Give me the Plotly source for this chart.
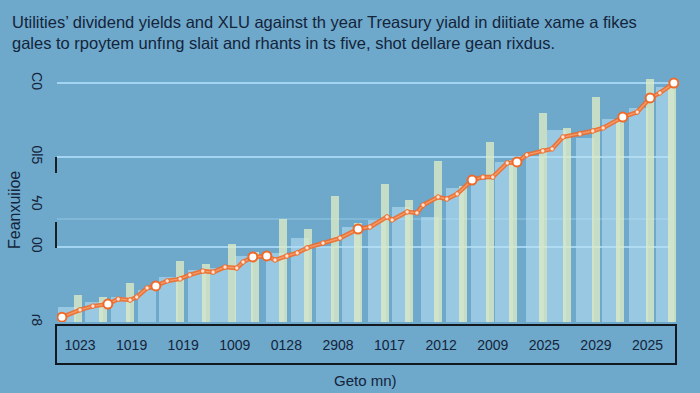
import plotly.graph_objects as go

# ---------------- data ----------------
x_labels = ["1023", "1019", "1019", "1009", "0128", "2908", "1017", "2012", "2009", "2025", "2029", "2025"]
x_pos = list(range(len(x_labels)))

y_tickvals = [0, 29.8, 46.4, 65.5, 94.8]
y_ticktext = ["ɾ8", "00", "ϟ0", "0l5", "C0"]

# wide pale-blue bars
wide_x = [-0.25, 0.27, 0.78, 1.30, 1.72, 2.27, 2.69, 3.18, 3.78, 4.26, 4.75, 5.25,
          5.76, 6.22, 6.78, 7.27, 7.75, 8.22, 8.82, 9.24, 9.79, 10.29, 10.83, 11.34]
wide_y = [6.0, 7.9, 9.9, 12.7, 17.9, 20.6, 21.4, 26.2, 27.4, 33.3, 29.8, 37.7,
          40.5, 45.6, 41.7, 53.2, 56.3, 63.5, 65.5, 76.2, 73.0, 80.6, 84.9, 93.3]

# narrow pale-yellow bars
narrow_x = [-0.04, 0.45, 0.97, 1.94, 2.44, 2.95, 3.39, 3.93, 4.42, 4.94, 5.39, 5.91,
            6.38, 6.94, 7.42, 7.95, 8.39, 8.97, 9.44, 10.00, 10.47, 11.05, 11.47]
narrow_y = [10.7, 9.9, 15.5, 24.2, 23.0, 31.0, 27.8, 40.9, 36.9, 50.0, 39.3, 54.8,
            48.4, 63.9, 54.0, 71.4, 64.3, 82.9, 77.0, 89.3, 80.2, 96.4, 94.8]

# orange line
line_x = [-0.35, 0.0, 0.25, 0.54, 0.74, 0.97, 1.10, 1.30, 1.47, 1.69, 1.94, 2.13,
          2.38, 2.58, 2.81, 3.04, 3.16, 3.35, 3.62, 3.78, 4.01, 4.21, 4.40, 4.71,
          5.04, 5.39, 5.62, 5.95, 6.05, 6.34, 6.53, 6.65, 6.94, 7.11, 7.31, 7.60,
          7.81, 8.00, 8.28, 8.47, 8.66, 8.97, 9.15, 9.36, 9.69, 9.94, 10.14, 10.52,
          10.80, 11.05, 11.24, 11.51]
line_y = [1.9, 4.8, 6.3, 7.1, 9.1, 8.7, 9.9, 13.5, 14.3, 16.3, 17.1, 18.7,
          20.2, 19.8, 21.8, 21.4, 23.8, 25.8, 26.2, 24.6, 26.2, 27.4, 29.4, 31.3,
          33.3, 36.9, 37.7, 41.7, 40.5, 43.7, 43.3, 46.4, 49.6, 48.8, 50.8, 56.3,
          57.5, 57.5, 63.1, 63.5, 66.3, 67.9, 68.7, 73.4, 74.6, 75.8, 77.0, 81.3,
          83.3, 88.9, 90.9, 94.8]
highlight_idx = [0, 3, 8, 17, 18, 25, 35, 39, 47, 49, 51]
hl_x = [line_x[i] for i in highlight_idx]
hl_y = [line_y[i] for i in highlight_idx]

title_text = ("Utilities’ dividend yields and XLU against th year Treasury yiald in diitiate xame a fikes<br>"
              "gales to rpoytem unfıng slait and rhants in ts five, shot dellare gean rixdus.")
y_title = "Feanxuiioe"
x_title = "Geto mn)"

# ---------------- figure ----------------
BG = "#6ea8cb"
TXT = "#14243a"
ORANGE = "#ee6a2a"
FONT = "Liberation Sans, Arial, sans-serif"

fig = go.Figure()
fig.add_trace(go.Bar(x=wide_x, y=wide_y, width=0.36,
                     marker=dict(color="rgba(185,225,243,0.58)", line=dict(width=0)),
                     showlegend=False, hoverinfo="skip"))
fig.add_trace(go.Bar(x=narrow_x, y=narrow_y, width=0.16,
                     marker=dict(color="rgba(222,236,196,0.78)", line=dict(width=0)),
                     showlegend=False, hoverinfo="skip"))
# line glow + line
fig.add_trace(go.Scatter(x=line_x, y=line_y, mode="lines",
                         line=dict(color="rgba(238,106,42,0.9)", width=4.5),
                         showlegend=False, hoverinfo="skip"))
fig.add_trace(go.Scatter(x=line_x, y=line_y, mode="lines+markers",
                         line=dict(color="#f79a66", width=1.4),
                         marker=dict(size=4.5, color="#ffe3d2", line=dict(color=ORANGE, width=1)),
                         showlegend=False))
fig.add_trace(go.Scatter(x=hl_x, y=hl_y, mode="markers",
                         marker=dict(size=9, color="white", line=dict(color=ORANGE, width=2)),
                         showlegend=False))

L, R, T, B = 57, 21, 70, 71
pw, ph = 700 - L - R, 393 - T - B

def px_x(p):
    return (p - L) / pw

def px_y(p):
    return (393 - B - p) / ph

shapes = []
for v, op in [(94.8, 0.95), (65.5, 0.95), (40.9, 0.35), (29.8, 0.95)]:
    shapes.append(dict(type="line", xref="paper", yref="y", x0=0, x1=px_x(670), y0=v, y1=v,
                       line=dict(color=f"rgba(165,214,242,{op})", width=2), layer="below"))
# small dark axis fragments
for a, b in [(157, 173), (222, 248)]:
    shapes.append(dict(type="line", xref="paper", yref="paper", x0=px_x(56), x1=px_x(56),
                       y0=px_y(b), y1=px_y(a), line=dict(color="#1a1f26", width=2)))
# label box
shapes.append(dict(type="rect", xref="paper", yref="paper", x0=px_x(56), x1=px_x(676),
                   y0=px_y(364), y1=px_y(325), line=dict(color="#111820", width=2),
                   fillcolor="rgba(0,0,0,0)"))

annotations = [
    dict(text=title_text, xref="paper", yref="paper", x=px_x(10), y=px_y(11),
         xanchor="left", yanchor="top", align="left", showarrow=False,
         font=dict(family=FONT, size=16.5, color=TXT)),
    dict(text=y_title, xref="paper", yref="paper", x=px_x(14), y=px_y(210),
         xanchor="center", yanchor="middle", textangle=-90, showarrow=False,
         font=dict(family=FONT, size=16, color=TXT)),
    dict(text=x_title, xref="paper", yref="paper", x=px_x(365), y=px_y(380),
         xanchor="center", yanchor="middle", showarrow=False,
         font=dict(family=FONT, size=15, color=TXT)),
]

fig.update_layout(
    width=700, height=393,
    margin=dict(l=L, r=R, t=T, b=B),
    paper_bgcolor=BG, plot_bgcolor=BG,
    barmode="overlay", bargap=0,
    shapes=shapes, annotations=annotations,
    font=dict(family=FONT, color=TXT),
    xaxis=dict(range=[-0.446, 11.61], tickvals=x_pos, ticktext=x_labels,
               showgrid=False, zeroline=False, showline=False, ticks="",
               ticklabelstandoff=13, tickfont=dict(size=14, color=TXT)),
    yaxis=dict(range=[0, 100], tickvals=y_tickvals, ticktext=y_ticktext,
               showgrid=False, zeroline=False, showline=False, ticks="",
               tickangle=90, ticklabelstandoff=10, tickfont=dict(size=14, color=TXT)),
)

fig.write_html("out.html", config={"displayModeBar": False},
               post_script="document.body.style.margin='0';document.body.style.background='#6ea8cb';")
